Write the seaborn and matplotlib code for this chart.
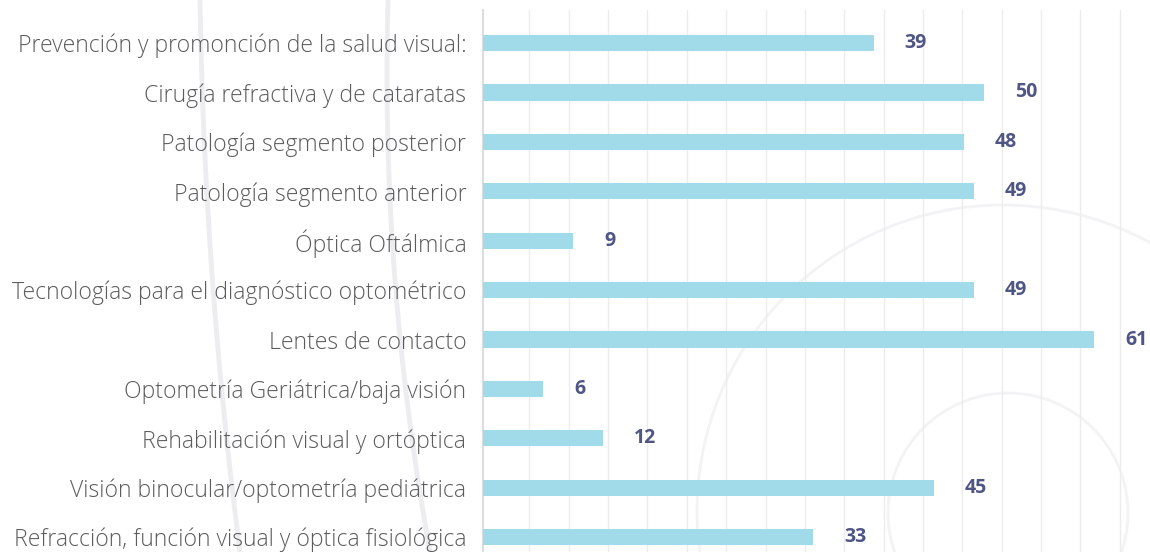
import numpy as np
import pandas as pd
import matplotlib.pyplot as plt
import seaborn as sns
from matplotlib.patches import Circle

# Data
categories = [
    "Prevención y promonción de la salud visual:",
    "Cirugía refractiva y de cataratas",
    "Patología segmento posterior",
    "Patología segmento anterior",
    "Óptica Oftálmica",
    "Tecnologías para el diagnóstico optométrico",
    "Lentes de contacto",
    "Optometría Geriátrica/baja visión",
    "Rehabilitación visual y ortóptica",
    "Visión binocular/optometría pediátrica",
    "Refracción, función visual y óptica fisiológica",
]
values = [39, 50, 48, 49, 9, 49, 61, 6, 12, 45, 33]

BAR_COLOR = "#a1dbea"
LABEL_COLOR = "#5c5c5c"
VALUE_COLOR = "#4f5585"
GRID_COLOR = "#ececec"

sns.set_theme(style="white")
plt.rcParams["font.family"] = ["Open Sans", "DejaVu Sans"]

df = pd.DataFrame({"area": categories, "n": values})

fig = plt.figure(figsize=(11.5, 5.52), dpi=100)
fig.patch.set_facecolor("white")

# faint decorative arcs in the background (figure pixel coords)
bg = fig.add_axes([0, 0, 1, 1], zorder=0)
bg.set_xlim(0, 1150)
bg.set_ylim(552, 0)
bg.axis("off")


def arc_through(p1, p2, p3):
    (x1, y1), (x2, y2), (x3, y3) = p1, p2, p3
    A = np.array([[x2 - x1, y2 - y1], [x3 - x1, y3 - y1]], dtype=float)
    b = 0.5 * np.array([x2**2 - x1**2 + y2**2 - y1**2,
                        x3**2 - x1**2 + y3**2 - y1**2])
    cx, cy = np.linalg.solve(A, b)
    r = np.hypot(x1 - cx, y1 - cy)
    ys = np.linspace(y1, y3, 200)
    sign = np.sign(x1 - cx)
    xs = cx + sign * np.sqrt(np.maximum(r**2 - (ys - cy) ** 2, 0))
    return xs, ys


for pts in [((200, 0), (211, 260), (240, 552)),
            ((388, 0), (390, 200), (430, 552))]:
    xs, ys = arc_through(*pts)
    bg.plot(xs, ys, color="#ededf1", lw=3.5, solid_capstyle="butt")
bg.add_patch(Circle((1003, 511), 306, fill=False, ec="#f3f3f5", lw=2))
bg.add_patch(Circle((1008, 513), 120, fill=False, ec="#f3f3f5", lw=2))

ax = fig.add_axes([483 / 1150, 0, 1 - 483 / 1150, 1 - 10 / 552], zorder=1)
ax.patch.set_alpha(0)

sns.barplot(data=df, x="n", y="area", orient="h", color=BAR_COLOR,
            saturation=1, width=0.33, linewidth=0, ax=ax, zorder=3)

ax.set_xlim(0, 66.6)
ax.set_ylim(10.30, -0.668)

# vertical gridlines
ax.set_xticks(np.arange(4.63, 66.6, 3.93))
ax.xaxis.grid(True, color=GRID_COLOR, lw=1)
ax.set_axisbelow(True)
ax.tick_params(axis="x", labelbottom=False, length=0)
ax.tick_params(axis="y", length=0, pad=12, labelsize=16.6, labelcolor=LABEL_COLOR)
for lab in ax.get_yticklabels():
    lab.set_fontweight("light")

for s in ["top", "right", "bottom"]:
    ax.spines[s].set_visible(False)
ax.spines["left"].set_color("#dddddd")
ax.spines["left"].set_linewidth(1.5)

ax.set_xlabel("")
ax.set_ylabel("")

for i, v in enumerate(values):
    ax.text(v + 3.1, i, str(v), ha="left", va="center", color=VALUE_COLOR,
            fontsize=14, fontweight="bold")

fig.savefig("out.png", dpi=100, facecolor="white")
